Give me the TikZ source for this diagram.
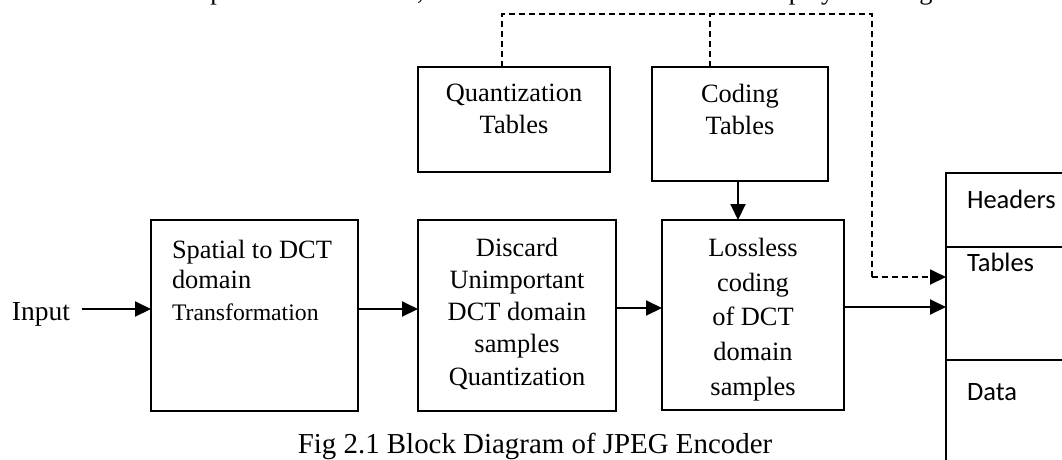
\documentclass[tikz,border=0pt]{standalone}
\usepackage{fontspec}
\setmainfont{Liberation Serif}
\newfontfamily\calibrifont{Carlito}
\usetikzlibrary{arrows.meta}
\begin{document}
\begin{tikzpicture}[x=1pt,y=-1pt,
  box/.style={draw,line width=2pt,inner sep=0pt,outer sep=0pt},
  sbox/.style={draw,line width=1.6pt,inner sep=0pt,outer sep=0pt},
  txt/.style={inner sep=0pt,outer sep=0pt,font=\fontsize{26.4}{32.2}\selectfont},
  ctxt/.style={inner sep=0pt,outer sep=0pt,font=\calibrifont\fontsize{26.5}{32}\selectfont},
  tip/.style={-{Triangle[length=16pt,width=15pt]}},
  arr/.style={line width=2pt,tip},
  dsh/.style={line width=1.8pt,dash pattern=on 6pt off 4pt}]
\useasboundingbox (0,0) rectangle (1062,459);
\clip (0,0) rectangle (1062,459);

% clipped line of running text above the figure
\node[txt,anchor=base west] (runtext) at (1.3,-0.6)
  {included in the compressed data stream, also the information needed to display the image.};

% blocks
\node[box,minimum width=207pt,minimum height=191pt,anchor=north west] (spatial) at (151,220) {};
\node[box,minimum width=198pt,minimum height=191pt,anchor=north west] (discard) at (418,220) {};
\node[box,minimum width=182pt,minimum height=190pt,anchor=north west] (lossless) at (662,220) {};
\node[box,minimum width=192pt,minimum height=105pt,anchor=north west] (qtab) at (418,67) {};
\node[box,minimum width=176pt,minimum height=114pt,anchor=north west] (ctab) at (652,67) {};
\node[sbox,minimum width=140pt,minimum height=320pt,anchor=north west] (stream) at (946,173) {};
\coordinate (d1) at (0,247);
\coordinate (d2) at (0,360);
\draw[line width=1.6pt] (stream.west |- d1) -- (stream.east |- d1);
\draw[line width=1.6pt] (stream.west |- d2) -- (stream.east |- d2);

% texts
\node[txt,anchor=base west] (input) at (12,320) {\fontsize{27.5}{32}\selectfont Input};
\node[txt,anchor=north west,align=left] (spatialtxt) at (172,240)
  {Spatial to DCT\\[-2pt] domain\\ {\fontsize{23.7}{32}\selectfont Transformation}};
\node[txt,anchor=north,align=center] (discardtxt) at (517,238)
  {Discard\\ Unimportant\\ DCT domain\\ samples\\ Quantization};
\node[txt,anchor=north,align=center,font=\fontsize{26.4}{34.7}\selectfont] (losslesstxt) at (753,238)
  {Lossless\\ coding\\ of DCT\\ domain\\ samples};
\node[txt,anchor=north,align=center] (qtabtxt) at (514,84) {Quantization\\ Tables};
\node[txt,anchor=north,align=center] (ctabtxt) at (740,84) {Coding\\ Tables};
\node[ctxt,anchor=base west] (headers) at (967,208) {Headers};
\node[ctxt,anchor=base west] (tables) at (967,271) {Tables};
\node[ctxt,anchor=base west] (data) at (967,400) {Data};
\node[txt,anchor=base,font=\fontsize{28.9}{34}\selectfont] (caption) at (535,453)
  {Fig 2.1 Block Diagram of JPEG Encoder};

% solid connectors
\coordinate (inA) at (82,309);
\coordinate (r1) at (0,309);
\coordinate (r2) at (0,308);
\coordinate (r3) at (0,307);
\coordinate (cx) at (738,0);
\draw[arr] (inA) -- (inA -| spatial.west);
\draw[arr] (spatial.east |- r1) -- (discard.west |- r1);
\draw[arr] (discard.east |- r2) -- (lossless.west |- r2);
\draw[arr] (lossless.east |- r3) -- (stream.west |- r3);
\draw[arr] (ctab.south -| cx) -- (lossless.north -| cx);

% dashed table paths
\coordinate (qx) at (502,0);
\coordinate (mx) at (710,0);
\coordinate (top) at (0,14);
\coordinate (dx) at (872,0);
\coordinate (dy) at (0,277);
\draw[dsh] (qtab.north -| qx) -- (qx |- top) -- (dx |- top) -- (dx |- dy);
\draw[dsh] (ctab.north -| mx) -- (mx |- top);
\draw[dsh,tip] (dx |- dy) -- (stream.west |- dy);
\end{tikzpicture}
\end{document}
